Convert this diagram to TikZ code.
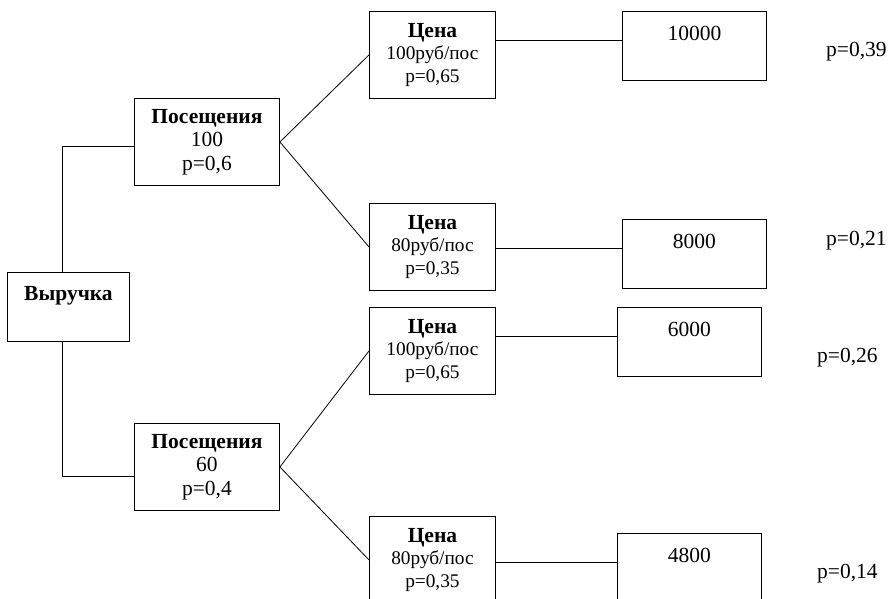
\documentclass[tikz,border=0pt]{standalone}
\usepackage{fontspec}
\setmainfont{Liberation Serif}
\usetikzlibrary{calc}

\newcommand\bigfs{\fontsize{21.5}{23.5}\selectfont}
\newcommand\smallfs{\fontsize{19.3}{22.5}\selectfont}

\tikzset{
  box/.style={draw, line width=0.9pt, anchor=north west, align=center, inner sep=0pt},
  rootbox/.style={box, minimum width=122pt, text height=28pt, text depth=41pt, font=\bigfs\bfseries},
  visbox/.style={box, minimum width=145pt, minimum height=87pt, font=\bigfs},
  pricebox/.style={box, minimum width=126pt, minimum height=87pt, font=\smallfs},
  resbox/.style={box, minimum width=144pt, text height=29pt, text depth=40pt, font=\bigfs},
  prob/.style={anchor=base west, inner sep=0pt, font=\bigfs},
  link/.style={line width=0.8pt}
}

\begin{document}
\begin{tikzpicture}[x=1pt,y=-1pt]
  \useasboundingbox (0,0) rectangle (892,599);
  \clip (0,0) rectangle (892,599);

  \node[rootbox] (rev) at (7,272) {Выручка};

  \node[visbox] (vis1) at (134,98)  {\textbf{Посещения}\\100\\p=0,6};
  \node[visbox] (vis2) at (134,423) {\textbf{Посещения}\\60\\p=0,4};

  \node[pricebox] (price1) at (369,11)  {{\bigfs\textbf{Цена}}\\100руб/пос\\p=0,65};
  \node[pricebox] (price2) at (369,203) {{\bigfs\textbf{Цена}}\\80руб/пос\\p=0,35};
  \node[pricebox] (price3) at (369,307) {{\bigfs\textbf{Цена}}\\100руб/пос\\p=0,65};
  \node[pricebox] (price4) at (369,516) {{\bigfs\textbf{Цена}}\\80руб/пос\\p=0,35};

  \node[resbox] (res1) at (622,11)  {10000};
  \node[resbox] (res2) at (622,219) {8000};
  \node[resbox] (res3) at (617,307) {6000};
  \node[resbox] (res4) at (617,533) {4800};

  \node[prob] (prob1) at (826,57)  {p=0,39};
  \node[prob] (prob2) at (826,245) {p=0,21};
  \node[prob] (prob3) at (817,362) {p=0,26};
  \node[prob] (prob4) at (817,578) {p=0,14};

  \draw[link] ([xshift=-6pt]rev.north) |- ([yshift=-4pt]vis1.west);
  \draw[link] ([xshift=-6pt]rev.south) |- ([yshift=-9pt]vis2.west);

  \draw[link] (vis1.east) -- (price1.west);
  \draw[link] (vis1.east) -- (price2.west);
  \draw[link] (vis2.east) -- (price3.west);
  \draw[link] (vis2.east) -- (price4.west);

  \draw[link] (price1.east |- res1.base west) -- (res1.base west);
  \draw[link] (price2.east |- res2.base west) -- (res2.base west);
  \draw[link] (price3.east |- res3.base west) -- (res3.base west);
  \draw[link] (price4.east |- res4.base west) -- (res4.base west);
\end{tikzpicture}
\end{document}
